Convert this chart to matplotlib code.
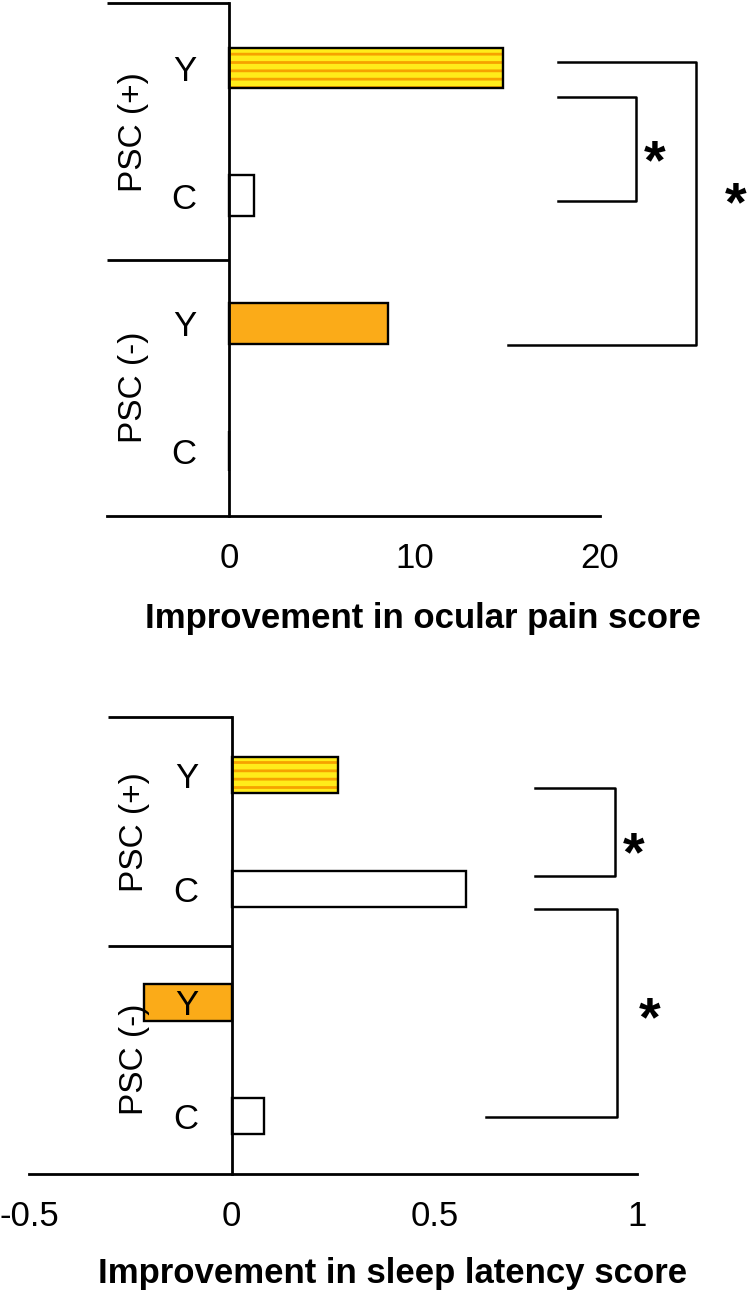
import matplotlib
matplotlib.use("Agg")
import matplotlib.pyplot as plt

# data
arms = ["Y", "C", "Y", "C"]
groups = ["PSC (+)", "PSC (-)"]
pain = [14.76, 1.35, 8.54, 0.0]
sleep = [0.262, 0.578, -0.217, 0.081]

pain_ticks = [0, 10, 20]
pain_ticklabels = ["0", "10", "20"]
sleep_ticks = [-0.5, 0, 0.5, 1]
sleep_ticklabels = ["-0.5", "0", "0.5", "1"]

YELLOW = "#FFEC1A"
STRIPE = "#F6A200"
ORANGE = "#FBAB18"
FONT = ["Liberation Sans", "DejaVu Sans"]

plt.rcParams["hatch.linewidth"] = 2.0

fig = plt.figure(figsize=(7.47, 12.93), dpi=100)
ax1 = fig.add_axes([0.1432, 0.6009, 0.660, 0.3968])
ax2 = fig.add_axes([0.0388, 0.0920, 0.8139, 0.3534])


def panel(ax, vals, xlim, ticks, ticklabels, sep_left):
    h = 0.32
    for i, v in enumerate(vals):
        if i == 0:
            ax.barh(i, v, height=h, color=YELLOW, edgecolor=STRIPE,
                    hatch="--", linewidth=0, zorder=1)
        elif i == 2:
            ax.barh(i, v, height=h, color=ORANGE, linewidth=0, zorder=1)
        else:
            ax.barh(i, v, height=h, color="white", linewidth=0, zorder=1)
        ax.barh(i, v, height=h, facecolor="none", edgecolor="black",
                linewidth=1.7, zorder=1.2)

    ax.set_xlim(*xlim)
    ax.set_ylim(3.51, -0.51)
    for s in ["top", "right"]:
        ax.spines[s].set_visible(False)
    ax.spines["left"].set_position(("data", 0))
    ax.spines["left"].set_linewidth(2)
    ax.spines["bottom"].set_linewidth(2)

    ax.set_yticks(range(len(arms)))
    ax.set_yticklabels(arms, family=FONT, fontsize=25)
    ax.set_xticks(ticks)
    ax.set_xticklabels(ticklabels, family=FONT, fontsize=25)
    ax.tick_params(axis="y", length=0, pad=24)
    ax.tick_params(axis="x", length=0, pad=19)

    # group separators left of the zero line
    for yy in [-0.51, 1.5]:
        ax.plot([sep_left, 0], [yy, yy], color="black", lw=2,
                clip_on=False, solid_capstyle="butt")
    for k, g in enumerate(groups):
        ax.text(sep_left * 0.78, 0.5 + 2 * k, g, rotation=90, ha="center",
                va="center", family=FONT, fontsize=24)


def bracket(ax, pts):
    xs = [p[0] for p in pts]
    ys = [p[1] for p in pts]
    ax.plot(xs, ys, color="black", lw=1.8, clip_on=False)


def star(ax, x, y, fs=40):
    ax.annotate("*", xy=(x, y), xytext=(0, -0.6 * fs), textcoords="offset points",
                ha="center", va="baseline", fontsize=fs, fontweight="bold",
                family=FONT, annotation_clip=False)


panel(ax1, pain, (-6.6, 20), pain_ticks, pain_ticklabels, -6.6)
panel(ax2, sleep, (-0.5, 1.0), sleep_ticks, sleep_ticklabels, -0.306)

bracket(ax1, [(17.73, 0.225), (21.95, 0.225), (21.95, 1.04), (17.73, 1.04)])
bracket(ax1, [(17.73, -0.05), (25.19, -0.05), (25.19, 2.17), (15.03, 2.17)])
star(ax1, 22.97, 0.6)
star(ax1, 27.3, 0.93)

bracket(ax2, [(0.748, 0.114), (0.946, 0.114), (0.946, 0.888), (0.748, 0.888)])
bracket(ax2, [(0.748, 1.18), (0.951, 1.18), (0.951, 3.01), (0.627, 3.01)])
star(ax2, 0.993, 0.54)
star(ax2, 1.032, 2.0)

fig.text(0.5663, 0.5143, "Improvement in ocular pain score", ha="center",
         va="baseline", fontsize=25, fontweight="bold", family=FONT)
fig.text(0.526, 0.0077, "Improvement in sleep latency score", ha="center",
         va="baseline", fontsize=25, fontweight="bold", family=FONT)

fig.savefig("out.png", dpi=100)
